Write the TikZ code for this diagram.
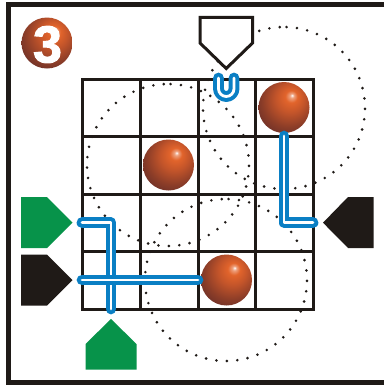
\documentclass[tikz,border=0pt]{standalone}
\usepackage{fontspec}
\setsansfont{Liberation Sans}
\newfontfamily\badgefont[FakeBold=2]{Liberation Sans Bold}
\usetikzlibrary{calc}
\definecolor{ink}{HTML}{1F1A17}
\definecolor{pipe}{HTML}{0A7FC4}
\definecolor{leaf}{HTML}{07934A}
\definecolor{ballhi}{HTML}{E2642B}
\definecolor{ballmd}{HTML}{C4552A}
\definecolor{ballds}{HTML}{8C3D28}
\definecolor{balllo}{HTML}{5E2A28}
\pgfdeclareradialshading{ballshade}{\pgfpoint{8bp}{12bp}}{%
  color(0bp)=(white);
  color(2bp)=(ballhi!60!white);
  color(6bp)=(ballhi);
  color(14bp)=(ballmd);
  color(26bp)=(ballds);
  color(38bp)=(balllo);
  color(60bp)=(balllo)}
\tikzset{
  gridline/.style={draw=ink,line width=3pt,line cap=rect},
  framebar/.style={draw=ink,line width=5.4pt,line join=miter},
  pipeline/.style={draw=pipe,line width=4pt,double=white,double distance=2.8pt,line cap=round,line join=round},
  sphere/.style={circle,inner sep=0pt,minimum size=51pt,shading=ballshade},
  dotmark/.style={fill=ink,draw=none},
  tagfill/.style={fill=#1,draw=none},
  tagopen/.style={fill=white,draw=ink,line width=3pt,line join=miter}
}
\begin{document}
\begin{tikzpicture}[x=1pt,y=-1pt]
\useasboundingbox (0,0) rectangle (384,389);
\fill[white] (0,0) rectangle (384,389);
% frame (open on the right)
\draw[framebar] (384,4.7) -- (8.7,4.7) -- (8.7,382.5) -- (384,382.5);
% dotted circles
\foreach \cx/\cy in {168/165,284/108,226/280}{
  \foreach \i in {0,...,48}{
    \fill[dotmark] ($(\cx,\cy)+({81*cos(93+\i*7.4)},{-81*sin(93+\i*7.4)})$) circle (1.45pt);
  }
}
% grid
\foreach \x in {82,140,198,255,313}{
  \draw[gridline] (\x,79) -- (\x,309);
}
\foreach \y in {79,136,194,251,309}{
  \draw[gridline] (82,\y) -- (313,\y);
}
% badge and spheres
\node[sphere] (badge) at (47,43) {};
\node[font=\badgefont\fontsize{52}{52}\selectfont,text=white,inner sep=0pt] (num) at (47.5,44.5) {3};
\node[sphere] (ballA) at (168.5,165) {};
\node[sphere] (ballB) at (284,107.5) {};
\node[sphere] (ballC) at (226.5,280) {};
% tags
\draw[tagopen] (200,17.3) -- (252.5,17.3) -- (252.5,43) -- (226.2,68.5) -- (200,43) -- cycle;
\fill[tagfill=leaf] (21,197) -- (47,197) -- (72.5,222.7) -- (47,248) -- (21,248) -- cycle;
\fill[tagfill=ink] (21,254.7) -- (47,254.7) -- (72.5,280) -- (47,305.7) -- (21,305.7) -- cycle;
\fill[tagfill=leaf] (111,319) -- (136.5,344) -- (136.5,369.7) -- (85.5,369.7) -- (85.5,344) -- cycle;
\fill[tagfill=ink] (323,222.7) -- (348,197) -- (373.7,197) -- (373.7,248) -- (348,248) -- cycle;
% pipes
\coordinate (p1a) at (82,222.7);
\coordinate (p1b) at (111,222.7);
\coordinate (p1c) at (111,309);
\coordinate (p2a) at (82,280);
\coordinate (p2b) at (198,280);
\coordinate (p3a) at (284,136);
\coordinate (p3b) at (284,222.7);
\coordinate (p3c) at (313,222.7);
\coordinate (u1) at (218.5,78);
\coordinate (u2) at (218.5,88.75);
\coordinate (u3) at (234,78);
\draw[pipeline] (p1a) -- (p1b) -- (p1c);
\draw[pipeline] (p2a) -- (p2b);
\draw[pipeline] (p3a) -- (p3b) -- (p3c);
\draw[pipeline] (u1) -- (u2) arc[start angle=180,end angle=360,radius=7.75pt] -- (u3);
\end{tikzpicture}
\end{document}
